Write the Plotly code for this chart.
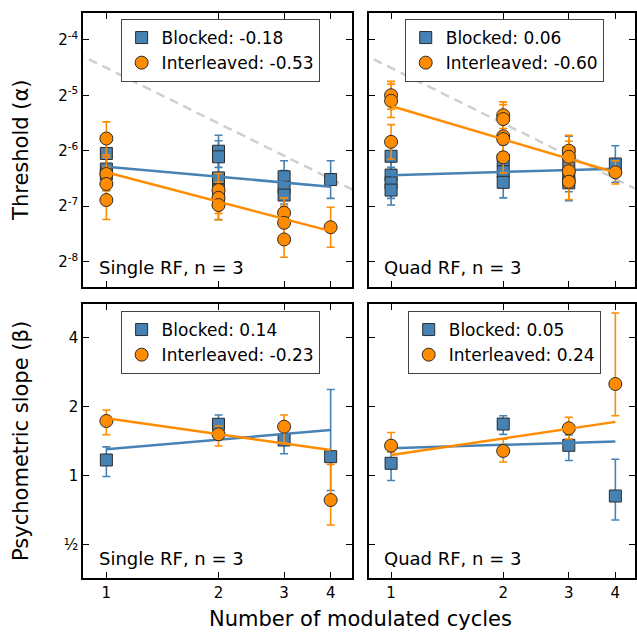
import numpy as np
import plotly.graph_objects as go

# ---------------------------------------------------------------------------
# Data (threshold and slope values stored as log2 exponents; errors in octaves)
# ---------------------------------------------------------------------------
x_tick_vals = [1, 2, 3, 4]
x_tick_text = ["1", "2", "3", "4"]

thr_tick_vals_log2 = [-8, -7, -6, -5, -4]
thr_tick_text = ["2<sup>-8</sup>", "2<sup>-7</sup>", "2<sup>-6</sup>", "2<sup>-5</sup>", "2<sup>-4</sup>"]
slope_tick_vals_log2 = [-1, 0, 1, 2]
slope_tick_text = ["½", "1", "2", "4"]

# Single RF, threshold
single_thr_blocked_x = [1, 1, 1, 2, 2, 2, 2, 2, 3, 3, 3, 4]
single_thr_blocked = [-6.05, -6.33, -6.42, -6.01, -6.11, -6.49, -6.71, -6.92, -6.47, -6.66, -6.80, -6.52]
single_thr_blocked_err = [0.30, 0.30, 0.30, 0.29, 0.29, 0.30, 0.30, 0.32, 0.29, 0.30, 0.30, 0.34]
single_thr_inter_x = [1, 1, 1, 1, 2, 2, 2, 3, 3, 3, 4]
single_thr_inter = [-5.78, -6.42, -6.60, -6.89, -6.71, -6.85, -6.98, -7.12, -7.30, -7.60, -7.38]
single_thr_inter_err = [0.30, 0.30, 0.30, 0.35, 0.30, 0.28, 0.27, 0.27, 0.30, 0.32, 0.36]

# Quad RF, threshold
quad_thr_blocked_x = [1, 1, 1, 1, 2, 2, 2, 3, 3, 3, 3, 4]
quad_thr_blocked = [-6.10, -6.44, -6.58, -6.71, -6.17, -6.38, -6.57, -6.04, -6.26, -6.44, -6.58, -6.24]
quad_thr_blocked_err = [0.28, 0.28, 0.28, 0.27, 0.28, 0.28, 0.28, 0.30, 0.30, 0.30, 0.32, 0.33]
quad_thr_inter_x = [1, 1, 1, 2, 2, 2, 2, 2, 3, 3, 3, 3, 4]
quad_thr_inter = [-5.00, -5.10, -5.84, -5.36, -5.43, -5.74, -5.79, -6.12, -6.00, -6.11, -6.37, -6.56, -6.39]
quad_thr_inter_err = [0.25, 0.30, 0.31, 0.24, 0.26, 0.28, 0.28, 0.28, 0.28, 0.28, 0.28, 0.32, 0.21]

# Single RF, psychometric slope
cycles = [1, 2, 3, 4]
single_slope_blocked = [0.225, 0.743, 0.515, 0.273]
single_slope_blocked_up = [0.19, 0.135, 0.17, 0.976]
single_slope_blocked_dn = [0.24, 0.20, 0.20, 0.49]
single_slope_inter = [0.791, 0.598, 0.708, -0.356]
single_slope_inter_up = [0.16, 0.12, 0.17, 0.517]
single_slope_inter_dn = [0.20, 0.17, 0.24, 0.363]

# Quad RF, psychometric slope
quad_slope_blocked = [0.177, 0.747, 0.438, -0.298]
quad_slope_blocked_up = [0.20, 0.12, 0.15, 0.533]
quad_slope_blocked_dn = [0.25, 0.15, 0.22, 0.348]
quad_slope_inter = [0.433, 0.356, 0.685, 1.328]
quad_slope_inter_up = [0.19, 0.17, 0.16, 1.03]
quad_slope_inter_dn = [0.09, 0.16, 0.155, 0.46]

# Power-law fits: exponent and log2 value at one cycle
fit_slopes = {"st": (-0.18, -0.53), "qt": (0.06, -0.60), "ss": (0.14, -0.23), "qs": (0.05, 0.24)}
fit_at_one = {"st": (-6.289, -6.390), "qt": (-6.444, -5.194), "ss": (0.380, 0.830), "qs": (0.395, 0.298)}

# Reference line of slope -1 through the threshold panels
ref_slope = -1.0
ref_at_one = -4.507

panel_labels = ["Single RF, n = 3", "Quad RF, n = 3", "Single RF, n = 3", "Quad RF, n = 3"]

# ---------------------------------------------------------------------------
W, H = 637, 633
FONT = "DejaVu Sans"
BLUE = "#4682b4"
ORANGE = "#ff8c00"
EDGE = "#2b2b2b"


def px_x(p):
    return p / W


def px_y(p):
    return 1 - p / H


fig = go.Figure()


def pts(x, v, up, dn, color, symbol, size, name, ax, legend):
    v = np.asarray(v, float)
    up = np.asarray(up, float)
    dn = np.asarray(dn, float)
    y = 2.0 ** v
    fig.add_trace(go.Scatter(
        x=x, y=y, mode="markers", name=name,
        xaxis="x" + ax, yaxis="y" + ax, legend=legend,
        marker=dict(symbol=symbol, size=size, color=color,
                    line=dict(color=EDGE, width=1)),
        error_y=dict(type="data", symmetric=False,
                     array=2.0 ** (v + up) - y, arrayminus=y - 2.0 ** (v - dn),
                     color=color, thickness=1.6, width=4),
        cliponaxis=True,
    ))


def fitline(slope, at_one, color, ax):
    xs = np.array([1.0, 4.0])
    ys = 2.0 ** (at_one + slope * np.log2(xs))
    fig.add_trace(go.Scatter(x=xs, y=ys, mode="lines", showlegend=False,
                             xaxis="x" + ax, yaxis="y" + ax,
                             line=dict(color=color, width=2.5)))


def refline(ax):
    xs = np.array([0.7, 6.0])
    ys = 2.0 ** (ref_at_one + ref_slope * np.log2(xs))
    fig.add_trace(go.Scatter(x=xs, y=ys, mode="lines", showlegend=False,
                             xaxis="x" + ax, yaxis="y" + ax,
                             line=dict(color="#cfcfcf", width=2.5, dash="9px,6px")))


def fmt(v):
    return f"{v:.2f}"


# Panel 1: single RF threshold
refline("")
pts(single_thr_blocked_x, single_thr_blocked, single_thr_blocked_err, single_thr_blocked_err,
    BLUE, "square", 12, f"Blocked: {fmt(fit_slopes['st'][0])}", "", "legend")
fitline(fit_slopes["st"][0], fit_at_one["st"][0], BLUE, "")
pts(single_thr_inter_x, single_thr_inter, single_thr_inter_err, single_thr_inter_err,
    ORANGE, "circle", 13, f"Interleaved: {fmt(fit_slopes['st'][1])}", "", "legend")
fitline(fit_slopes["st"][1], fit_at_one["st"][1], ORANGE, "")

# Panel 2: quad RF threshold
refline("2")
pts(quad_thr_blocked_x, quad_thr_blocked, quad_thr_blocked_err, quad_thr_blocked_err,
    BLUE, "square", 12, f"Blocked: {fmt(fit_slopes['qt'][0])}", "2", "legend2")
fitline(fit_slopes["qt"][0], fit_at_one["qt"][0], BLUE, "2")
pts(quad_thr_inter_x, quad_thr_inter, quad_thr_inter_err, quad_thr_inter_err,
    ORANGE, "circle", 13, f"Interleaved: {fmt(fit_slopes['qt'][1])}", "2", "legend2")
fitline(fit_slopes["qt"][1], fit_at_one["qt"][1], ORANGE, "2")

# Panel 3: single RF slope
pts(cycles, single_slope_blocked, single_slope_blocked_up, single_slope_blocked_dn,
    BLUE, "square", 12, f"Blocked: {fmt(fit_slopes['ss'][0])}", "3", "legend3")
fitline(fit_slopes["ss"][0], fit_at_one["ss"][0], BLUE, "3")
pts(cycles, single_slope_inter, single_slope_inter_up, single_slope_inter_dn,
    ORANGE, "circle", 13, f"Interleaved: {fmt(fit_slopes['ss'][1])}", "3", "legend3")
fitline(fit_slopes["ss"][1], fit_at_one["ss"][1], ORANGE, "3")

# Panel 4: quad RF slope
pts(cycles, quad_slope_blocked, quad_slope_blocked_up, quad_slope_blocked_dn,
    BLUE, "square", 12, f"Blocked: {fmt(fit_slopes['qs'][0])}", "4", "legend4")
fitline(fit_slopes["qs"][0], fit_at_one["qs"][0], BLUE, "4")
pts(cycles, quad_slope_inter, quad_slope_inter_up, quad_slope_inter_dn,
    ORANGE, "circle", 13, f"Interleaved: {fmt(fit_slopes['qs'][1])}", "4", "legend4")
fitline(fit_slopes["qs"][1], fit_at_one["qs"][1], ORANGE, "4")

# ---------------------------------------------------------------------------
# Axes
# ---------------------------------------------------------------------------
left_x = [83.5, 353.3]
right_x = [370.3, 636.7]
top_y = [12.5, 287.3]
bot_y = [304.0, 578.0]

common = dict(showline=True, linecolor="black", linewidth=2, mirror="allticks",
              ticks="inside", ticklen=6, tickwidth=1, tickcolor="black",
              showgrid=False, zeroline=False,
              tickfont=dict(family=FONT, size=15, color="black"))


def xaxis(dom, rng, anchor, labels):
    return dict(common, type="log", domain=[px_x(dom[0]), px_x(dom[1])], range=rng,
                anchor=anchor, tickvals=x_tick_vals, ticktext=x_tick_text,
                showticklabels=labels)


def yaxis(dom, rng, anchor, vals, text, labels):
    return dict(common, type="log", domain=[px_y(dom[1]), px_y(dom[0])], range=rng,
                anchor=anchor, tickvals=[2.0 ** v for v in vals], ticktext=text,
                showticklabels=labels)


thr_range = [-8.463 * np.log10(2), -3.508 * np.log10(2)]
slope_range = [-1.488 * np.log10(2), 2.489 * np.log10(2)]
lx_range = [-0.0621, 0.6599]
rx_range = [-0.0589, 0.654]

fig.update_layout(
    width=W, height=H,
    margin=dict(l=0, r=0, t=0, b=0),
    paper_bgcolor="white", plot_bgcolor="white",
    font=dict(family=FONT, color="black"),
    xaxis=xaxis(left_x, lx_range, "y", False),
    yaxis=yaxis(top_y, thr_range, "x", thr_tick_vals_log2, thr_tick_text, True),
    xaxis2=xaxis(right_x, rx_range, "y2", False),
    yaxis2=yaxis(top_y, thr_range, "x2", thr_tick_vals_log2, thr_tick_text, False),
    xaxis3=xaxis(left_x, lx_range, "y3", True),
    yaxis3=yaxis(bot_y, slope_range, "x3", slope_tick_vals_log2, slope_tick_text, True),
    xaxis4=xaxis(right_x, rx_range, "y4", True),
    yaxis4=yaxis(bot_y, slope_range, "x4", slope_tick_vals_log2, slope_tick_text, False),
)

legend_style = dict(bgcolor="white", bordercolor="#444444", borderwidth=1,
                    font=dict(family=FONT, size=17, color="black"),
                    xanchor="left", yanchor="top", tracegroupgap=0)
fig.update_layout(
    legend=dict(legend_style, x=px_x(121), y=px_y(19)),
    legend2=dict(legend_style, x=px_x(406), y=px_y(19)),
    legend3=dict(legend_style, x=px_x(121), y=px_y(311)),
    legend4=dict(legend_style, x=px_x(409), y=px_y(311)),
)

# Panel captions and axis titles
ann = []
for label, (xl, yb) in zip(panel_labels, [(97, 280), (383, 280), (97, 571), (383, 571)]):
    ann.append(dict(text=label, x=px_x(xl), y=px_y(yb), xref="paper", yref="paper",
                    xanchor="left", yanchor="bottom", showarrow=False,
                    font=dict(family=FONT, size=18, color="black")))
ann.append(dict(text="Number of modulated cycles", x=px_x(362), y=px_y(619),
                xref="paper", yref="paper", xanchor="center", yanchor="middle",
                showarrow=False, font=dict(family=FONT, size=21, color="black")))
ann.append(dict(text="Threshold (α)", x=px_x(21), y=px_y(150), textangle=-90,
                xref="paper", yref="paper", xanchor="center", yanchor="middle",
                showarrow=False, font=dict(family=FONT, size=21, color="black")))
ann.append(dict(text="Psychometric slope (β)", x=px_x(21), y=px_y(441), textangle=-90,
                xref="paper", yref="paper", xanchor="center", yanchor="middle",
                showarrow=False, font=dict(family=FONT, size=21, color="black")))
fig.update_layout(annotations=ann)

fig.write_html("out.html")
